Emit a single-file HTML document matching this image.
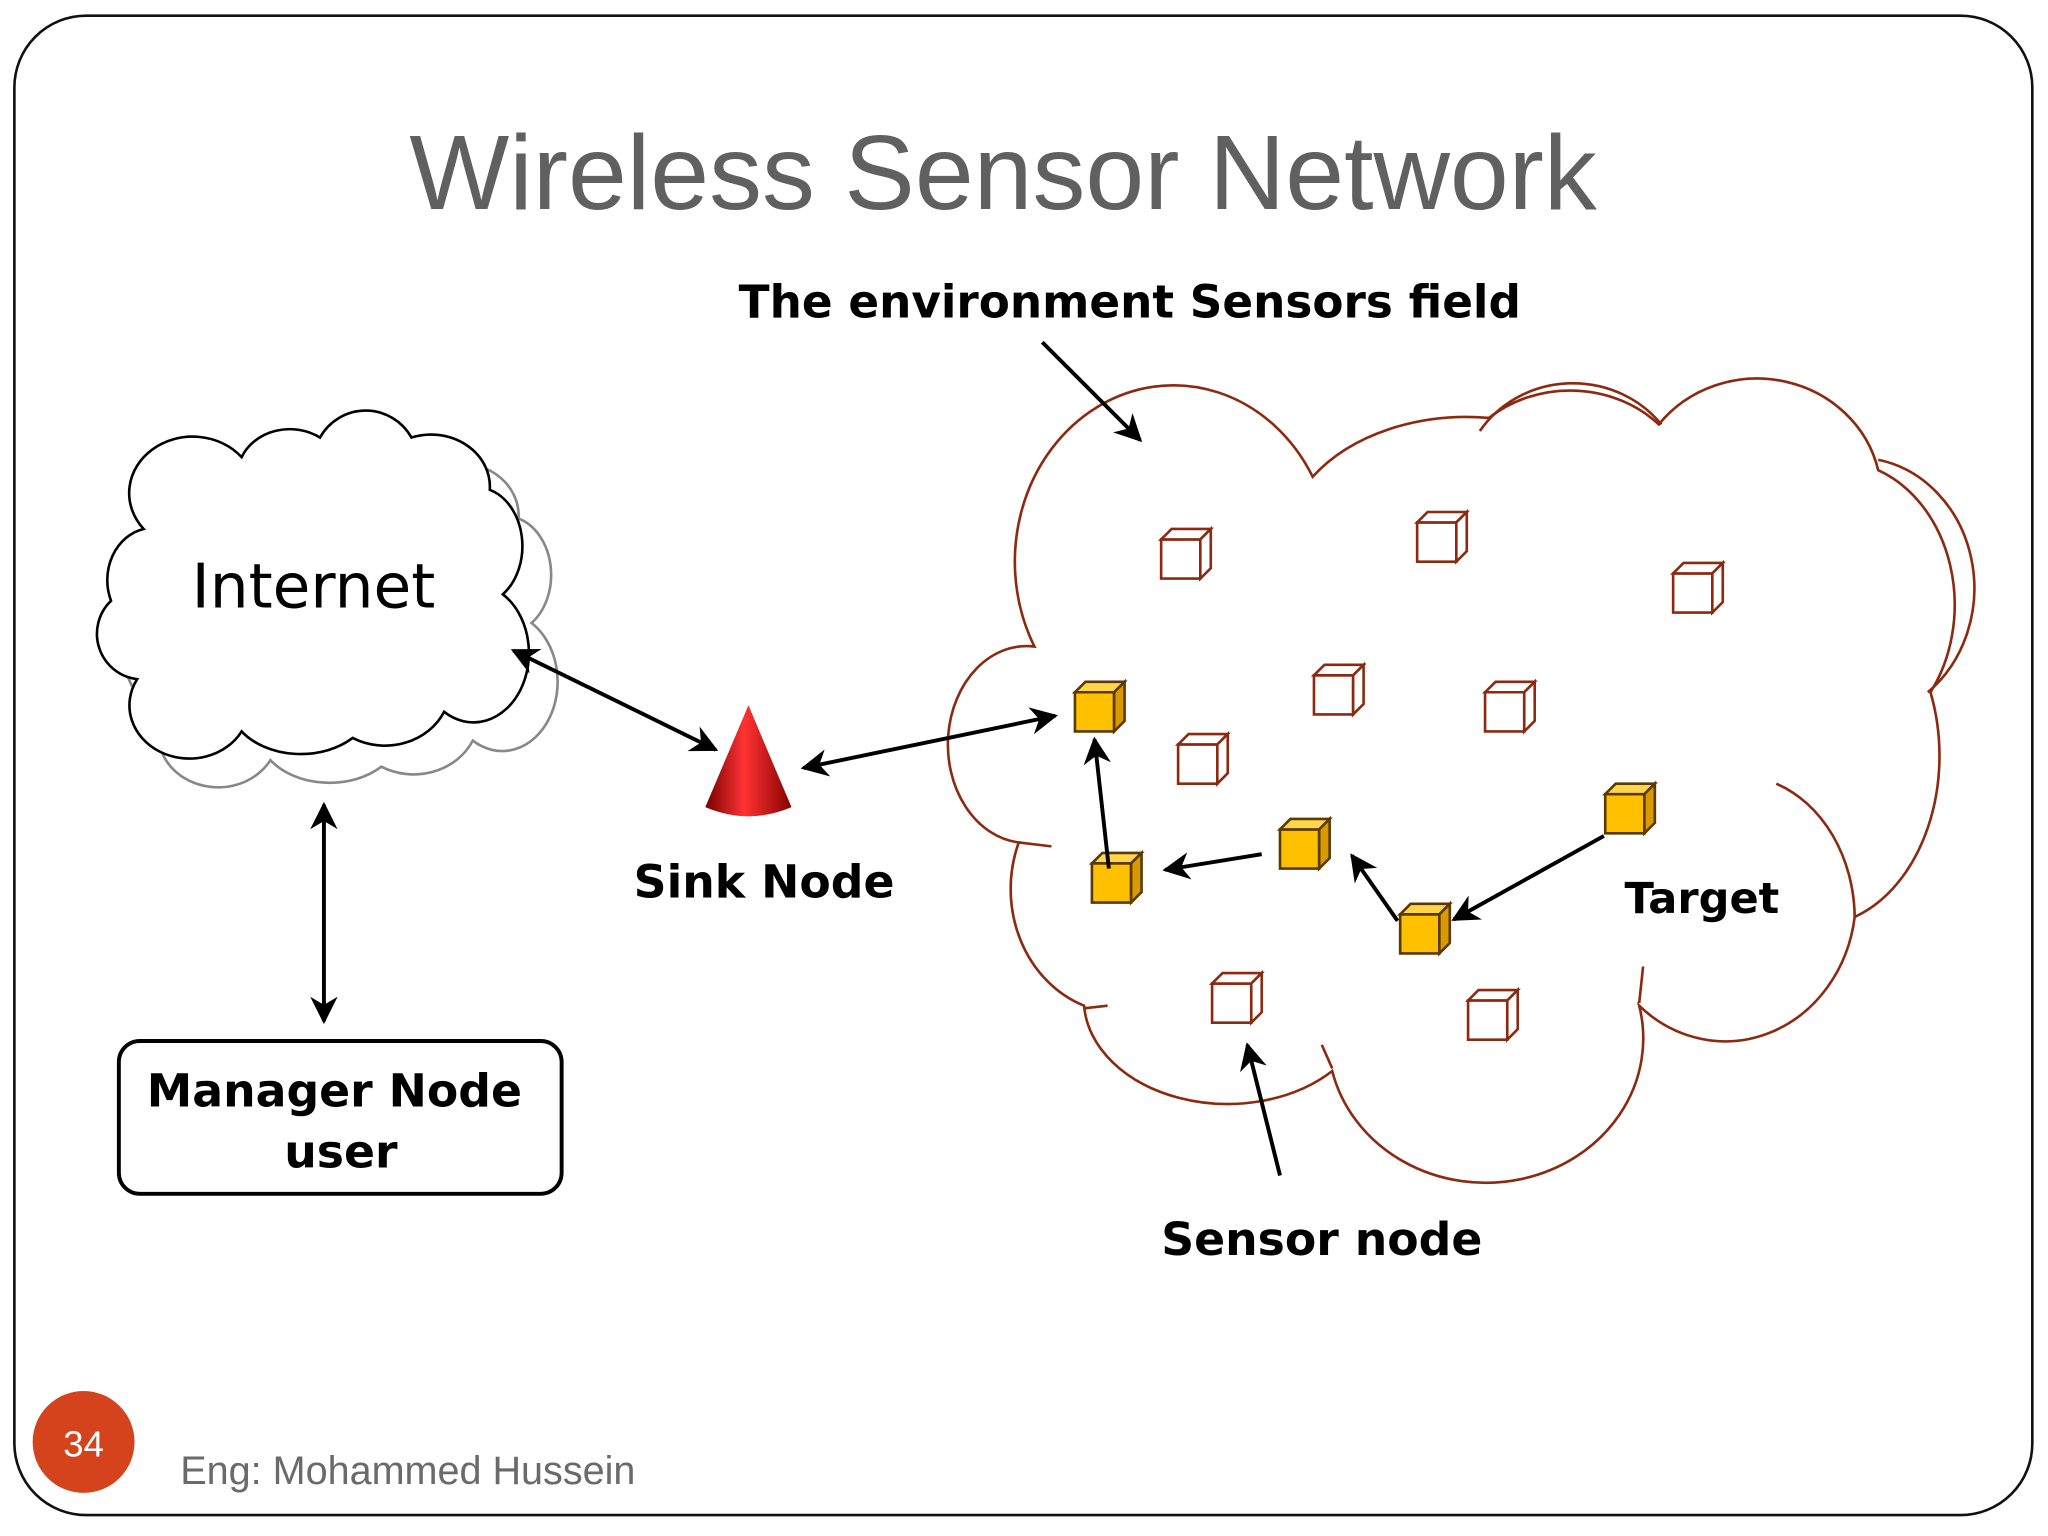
<!DOCTYPE html>
<html><head><meta charset="utf-8"><style>
html,body{margin:0;padding:0;background:#fff}
svg{display:block}
</style></head><body>
<svg width="2048" height="1536" viewBox="0 0 1568 1176" xmlns="http://www.w3.org/2000/svg">
<defs>
<marker id="a" viewBox="0 0 10 10" refX="9" refY="5" markerWidth="7" markerHeight="7" orient="auto-start-reverse"><path d="M0,0 L10,5 L0,10 L3,5 z" fill="#000"/></marker>
<g id="c"><polygon points="0,8 30,8 30,38 0,38" fill="#fff" stroke="#8b2a10" stroke-width="2"/><polygon points="0,8 8,0 38,0 30,8" fill="#fff" stroke="#8b2a10" stroke-width="2"/><polygon points="30,8 38,0 38,30 30,38" fill="#fff" stroke="#8b2a10" stroke-width="2"/></g>
<g id="y"><polygon points="0,8 30,8 30,38 0,38" fill="#ffc000" stroke="#5a3a00" stroke-width="2"/><polygon points="0,8 8,0 38,0 30,8" fill="#ffd54a" stroke="#5a3a00" stroke-width="2"/><polygon points="30,8 38,0 38,30 30,38" fill="#d89a00" stroke="#5a3a00" stroke-width="2"/></g>
<linearGradient id="cone" x1="0" x2="1"><stop offset="0" stop-color="#700"/><stop offset="0.45" stop-color="#f33"/><stop offset="1" stop-color="#800"/></linearGradient>
</defs>
<rect x="11" y="12" width="1545" height="1148" rx="55" fill="#fff" stroke="#111" stroke-width="2"/>
<text x="768" y="160" font-family="Liberation Sans, sans-serif" font-size="81" fill="#606060" text-anchor="middle">Wireless Sensor Network</text>
<text x="865" y="243" font-family="DejaVu Sans, sans-serif" font-weight="bold" font-size="34.7" text-anchor="middle">The environment Sensors field</text>
<!-- big cloud -->
<path d="M792,495 A108,120 0 0 1 1005,365 A140,100 0 0 1 1140,320 A92,80 0 0 1 1270,325 A95,90 0 0 1 1438,360 A90,110 0 0 1 1478,530 A95,130 0 0 1 1420,702 A100,110 0 0 1 1255,770 A120,110 0 0 1 1020,820 A110,80 0 0 1 830,770 A85,95 0 0 1 780,645 A60,75 0 0 1 792,495 Z" fill="#fff" stroke="#8b2a10" stroke-width="2"/>
<path d="M1133,330 A85,80 0 0 1 1272,325 M1438,352 A90,100 0 0 1 1476,530 M1360,600 A90,110 0 0 1 1420,702 M1255,768 L1258,740 M1020,818 L1012,800 M830,772 L848,770 M780,645 L805,648" fill="none" stroke="#8b2a10" stroke-width="2"/>
<line x1="798" y1="262" x2="873" y2="337" stroke="#000" stroke-width="3" marker-end="url(#a)"/>
<!-- internet cloud -->
<g fill="none" stroke="#888" stroke-width="2" transform="translate(12,12)">
<path d="M120,395 A45,40 0 0 1 195,360 A40,35 0 0 1 255,345 A40,40 0 0 1 325,345 A45,40 0 0 1 385,385 A35,45 0 0 1 395,465 A40,50 0 0 1 350,555 A50,45 0 0 1 280,575 A55,40 0 0 1 195,570 A45,40 0 0 1 115,530 A35,35 0 0 1 95,470 A35,40 0 0 1 120,395 Z"/>
</g>
<g fill="#fff" stroke="#000" stroke-width="2">
<path d="M110,405 A45,40 0 0 1 185,350 A40,35 0 0 1 245,335 A40,40 0 0 1 315,335 A45,40 0 0 1 375,375 A35,45 0 0 1 385,455 A40,50 0 0 1 340,545 A50,45 0 0 1 270,565 A55,40 0 0 1 185,560 A45,40 0 0 1 105,520 A35,35 0 0 1 85,460 A35,40 0 0 1 110,405 Z"/>
</g>
<text x="240" y="465" font-family="DejaVu Sans, sans-serif" font-size="47" text-anchor="middle">Internet</text>
<line x1="393" y1="498" x2="548" y2="574" stroke="#000" stroke-width="3" marker-start="url(#a)" marker-end="url(#a)"/>
<line x1="248" y1="616" x2="248" y2="782" stroke="#000" stroke-width="3" marker-start="url(#a)" marker-end="url(#a)"/>
<rect x="91" y="797" width="339" height="117" rx="16" fill="#fff" stroke="#000" stroke-width="3"/>
<text x="256" y="847" font-family="DejaVu Sans, sans-serif" font-weight="bold" font-size="35" text-anchor="middle">Manager Node</text>
<text x="261" y="894" font-family="DejaVu Sans, sans-serif" font-weight="bold" font-size="35" text-anchor="middle">user</text>
<!-- sink -->
<path d="M573,540 L540,618 Q573,632 606,618 Z" fill="url(#cone)"/>
<text x="585" y="687" font-family="DejaVu Sans, sans-serif" font-weight="bold" font-size="35" text-anchor="middle">Sink Node</text>
<line x1="615" y1="588" x2="808" y2="548" stroke="#000" stroke-width="3" marker-start="url(#a)" marker-end="url(#a)"/>
<!-- cubes -->
<use href="#c" x="889" y="405"/><use href="#c" x="1085" y="392"/><use href="#c" x="1281" y="431"/>
<use href="#c" x="1006" y="509"/><use href="#c" x="1137" y="522"/><use href="#c" x="902" y="562"/>
<use href="#c" x="928" y="745"/><use href="#c" x="1124" y="758"/>
<use href="#y" x="823" y="522"/><use href="#y" x="836" y="653"/><use href="#y" x="980" y="627"/>
<use href="#y" x="1072" y="692"/><use href="#y" x="1229" y="600"/>
<line x1="849" y1="665" x2="838" y2="566" stroke="#000" stroke-width="3" marker-end="url(#a)"/>
<line x1="966" y1="654" x2="892" y2="666" stroke="#000" stroke-width="3" marker-end="url(#a)"/>
<line x1="1070" y1="705" x2="1035" y2="655" stroke="#000" stroke-width="3" marker-end="url(#a)"/>
<line x1="1228" y1="640" x2="1113" y2="704" stroke="#000" stroke-width="3" marker-end="url(#a)"/>
<line x1="980" y1="900" x2="955" y2="800" stroke="#000" stroke-width="3" marker-end="url(#a)"/>
<text x="1303" y="699" font-family="DejaVu Sans, sans-serif" font-weight="bold" font-size="33" text-anchor="middle">Target</text>
<text x="1012" y="961" font-family="DejaVu Sans, sans-serif" font-weight="bold" font-size="35" text-anchor="middle">Sensor node</text>
<circle cx="64" cy="1104" r="39" fill="#d5431c"/>
<text x="64" y="1115" font-family="Liberation Sans, sans-serif" font-size="28" fill="#fff" text-anchor="middle">34</text>
<text x="138" y="1136" font-family="Liberation Sans, sans-serif" font-size="30.3" fill="#6a6a6a">Eng: Mohammed Hussein</text>
</svg>
</body></html>
